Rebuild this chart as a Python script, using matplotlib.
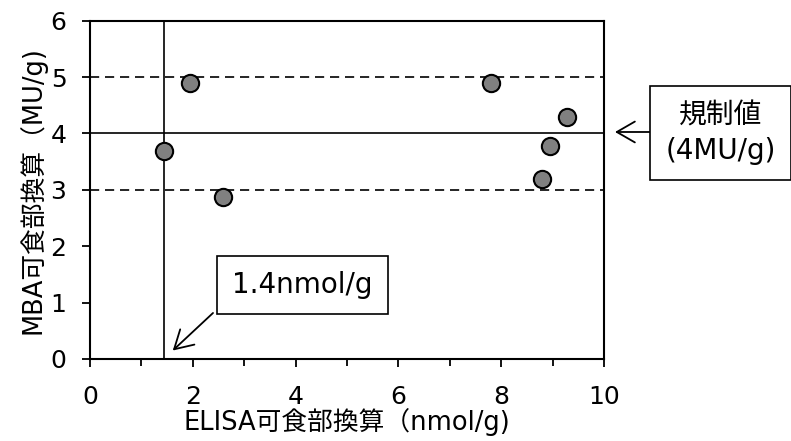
import matplotlib
matplotlib.use('Agg')
import matplotlib.pyplot as plt
from matplotlib.ticker import MultipleLocator

plt.rcParams['font.family'] = ['DejaVu Sans', 'Noto Sans CJK JP']

# ELISA vs MBA
elisa = [1.94, 1.44, 2.59, 7.80, 9.28, 8.94, 8.79]
mba = [4.89, 3.69, 2.88, 4.89, 4.29, 3.78, 3.19]
limit_mba = 4.0
band_lo, band_hi = 3.0, 5.0
limit_elisa = 1.43

fig = plt.figure(figsize=(7.91, 4.41), dpi=100)
ax = fig.add_axes([0.1138, 0.186, 0.6498, 0.767])

ax.axhline(band_hi, color='black', lw=1.2, ls=(0, (5.5, 3.5)), zorder=1)
ax.axhline(band_lo, color='black', lw=1.2, ls=(0, (5.5, 3.5)), zorder=1)
ax.axhline(limit_mba, color='black', lw=1.2, zorder=1)
ax.axvline(limit_elisa, color='black', lw=1.2, zorder=1)

ax.scatter(elisa, mba, s=155, c='#808080', edgecolors='black', linewidths=1.5, zorder=3)

ax.set_xlim(0, 10)
ax.set_ylim(0, 6)
ax.xaxis.set_major_locator(MultipleLocator(2))
ax.xaxis.set_minor_locator(MultipleLocator(1))
ax.yaxis.set_major_locator(MultipleLocator(1))
ax.tick_params(axis='both', which='major', direction='out', length=6, width=1.3, labelsize=18)
ax.tick_params(axis='x', which='major', pad=13)
ax.tick_params(axis='y', which='major', pad=11)
ax.tick_params(axis='x', which='minor', direction='out', length=5, width=1.3)
for sp in ax.spines.values():
    sp.set_linewidth(1.5)

ax.set_xlabel('ELISA可食部換算（nmol/g)', fontsize=18.5, labelpad=-1)
ax.set_ylabel('MBA可食部換算（MU/g)', fontsize=18.5, labelpad=3)

# annotation boxes
box = dict(boxstyle='square,pad=0.55', fc='white', ec='black', lw=1.2)
arrow = dict(arrowstyle='->,head_length=1.3,head_width=0.75', lw=1.3, color='black',
             shrinkA=0, shrinkB=0)
fig.text(0.382, 0.354, '1.4nmol/g', fontsize=20, ha='center', va='center', bbox=box)
ax.annotate('', xy=(1.61, 0.15), xytext=(0.2693, 0.2903),
            textcoords='figure fraction', arrowprops=arrow)

fig.text(0.911, 0.6985, '規制値\n(4MU/g)', fontsize=20, ha='center', va='center',
         linespacing=1.35, bbox=box)
ax.annotate('', xy=(0.7775, 0.7007), xycoords='figure fraction',
            xytext=(0.8218, 0.7007), textcoords='figure fraction', arrowprops=arrow)

fig.savefig('out.png', dpi=100)
